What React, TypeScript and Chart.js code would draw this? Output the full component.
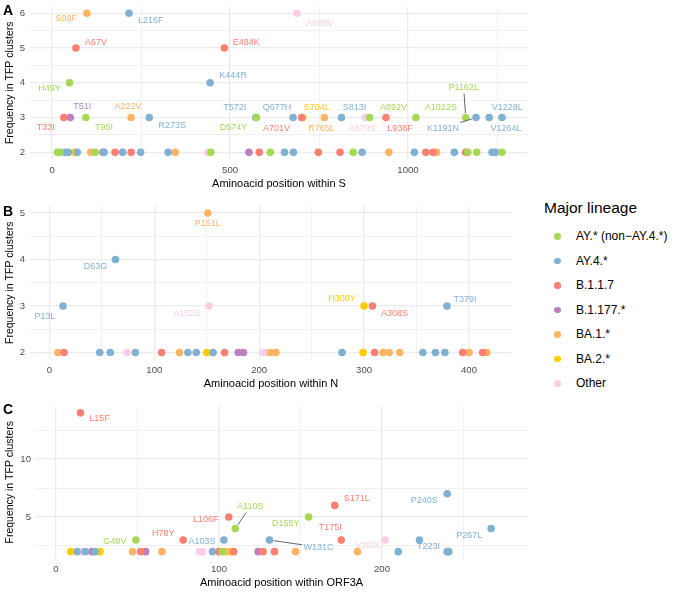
import React, { useEffect, useRef } from "react";
import { Chart, registerables } from "chart.js";

Chart.register(...registerables);

const FONT = '"Liberation Sans", Arial, Helvetica, sans-serif';

const LINEAGE_KEYS = ["AY", "AY4", "B117", "B1177", "BA1", "BA2", "Other"];
const LINEAGE_NAMES = ["AY.* (non\u2212AY.4.*)", "AY.4.*", "B.1.1.7", "B.1.177.*", "BA.1.*", "BA.2.*", "Other"];
const LINEAGE_COLORS = ["#A6D854", "#80B1D3", "#FB8072", "#BC80BD", "#FDB462", "#FFCC00", "#FCCDE5"];

// ---------- Panel A: S ----------
// [mutation, lineage, position, frequency]
const S_LABELED: [string, string, number, number][] = [
  ["S98F", "BA1", 98, 6], ["L216F", "AY4", 216, 6], ["A688V", "Other", 688, 6],
  ["A67V", "B117", 67, 5], ["E484K", "B117", 484, 5],
  ["H49Y", "AY", 49, 4], ["K444R", "AY4", 444, 4],
  ["T33I", "B117", 33, 3], ["T51I", "B1177", 51, 3], ["T95I", "AY", 95, 3], ["A222V", "BA1", 222, 3],
  ["R273S", "AY4", 273, 3], ["T572I", "AY4", 572, 3], ["D574Y", "AY", 574, 3], ["Q677H", "AY4", 677, 3],
  ["A701V", "B117", 701, 3], ["S704L", "BA2", 704, 3], ["R765L", "BA1", 765, 3], ["S813I", "AY4", 813, 3],
  ["A879S", "Other", 879, 3], ["A892V", "AY", 892, 3], ["L938F", "B117", 938, 3], ["A1022S", "AY", 1022, 3],
  ["P1162L", "AY", 1162, 3], ["K1191N", "AY4", 1191, 3], ["V1228L", "AY4", 1228, 3], ["V1264L", "AY4", 1264, 3],
];
// [lineage, position, frequency]
const S_UNLABELED: [string, number, number][] = [
  ["AY", 15, 2], ["AY", 22, 2], ["AY4", 36, 2], ["AY4", 46, 2], ["BA2", 64, 2], ["AY4", 71, 2],
  ["BA1", 109, 2], ["AY", 121, 2], ["B1177", 143, 2], ["AY4", 146, 2], ["B117", 177, 2], ["AY4", 198, 2],
  ["B117", 222, 2], ["AY4", 249, 2], ["AY4", 326, 2], ["BA1", 346, 2], ["Other", 438, 2], ["AY", 446, 2],
  ["B1177", 553, 2], ["B117", 582, 2], ["AY", 613, 2], ["AY4", 653, 2], ["AY4", 678, 2], ["B117", 748, 2],
  ["B117", 809, 2], ["AY", 846, 2], ["AY4", 871, 2], ["BA1", 946, 2], ["AY4", 1018, 2], ["B117", 1050, 2],
  ["B117", 1070, 2], ["BA1", 1080, 2], ["AY4", 1130, 2], ["BA1", 1164, 2], ["B117", 1162, 2], ["AY", 1168, 2],
  ["AY", 1193, 2], ["AY4", 1236, 2], ["AY4", 1246, 2], ["AY", 1264, 2],
];
const S_X_GRID = [0, 250, 500, 750, 1000, 1250];
const S_X_LABELS = [0, 500, 1000];
const S_Y_GRID = [2, 2.5, 3, 3.5, 4, 4.5, 5, 5.5, 6];
const S_Y_LABELS = [2, 3, 4, 5, 6];

// ---------- Panel B: N ----------
const N_LABELED: [string, string, number, number][] = [
  ["P151L", "BA1", 151, 5], ["D63G", "AY4", 63, 4],
  ["P13L", "AY4", 13, 3], ["A152S", "Other", 152, 3], ["H300Y", "BA2", 300, 3],
  ["A308S", "B117", 308, 3], ["T379I", "AY4", 379, 3],
];
const N_UNLABELED: [string, number, number][] = [
  ["BA1", 8, 2], ["B117", 14, 2], ["AY4", 48, 2], ["AY4", 58, 2], ["Other", 74, 2], ["AY4", 82, 2],
  ["B117", 107, 2], ["BA1", 124, 2], ["AY4", 132, 2], ["AY4", 140, 2], ["BA2", 150, 2], ["AY4", 156, 2],
  ["B117", 167, 2], ["B1177", 180, 2], ["B1177", 185, 2], ["Other", 204, 2], ["Other", 208, 2], ["BA1", 211, 2],
  ["BA1", 216, 2], ["AY4", 279, 2], ["BA2", 299, 2], ["B117", 310, 2], ["BA1", 318, 2], ["BA1", 324, 2],
  ["BA1", 334, 2], ["AY4", 356, 2], ["AY4", 368, 2], ["AY4", 377, 2], ["B117", 394, 2], ["BA1", 400, 2],
  ["B117", 413, 2], ["BA1", 417, 2],
];
const N_X_GRID = [0, 50, 100, 150, 200, 250, 300, 350, 400];
const N_X_LABELS = [0, 100, 200, 300, 400];
const N_Y_GRID = [2, 2.5, 3, 3.5, 4, 4.5, 5];
const N_Y_LABELS = [2, 3, 4, 5];

// ---------- Panel C: ORF3A ----------
const ORF3A_LABELED: [string, string, number, number][] = [
  ["L15F", "B117", 15, 14], ["G49V", "AY", 49, 3], ["H78Y", "B117", 78, 3], ["A103S", "AY4", 103, 3],
  ["L106F", "B117", 106, 5], ["A110S", "AY", 110, 4], ["W131C", "AY4", 131, 3], ["D155Y", "AY", 155, 5],
  ["S171L", "B117", 171, 6], ["T175I", "B117", 175, 3], ["V202L", "Other", 202, 3], ["T223I", "AY4", 223, 3],
  ["P240S", "AY4", 240, 7], ["P267L", "AY4", 267, 4],
];
const ORF3A_UNLABELED: [string, number, number][] = [
  ["BA2", 9, 2], ["AY4", 13, 2], ["Other", 16, 2], ["AY4", 18, 2], ["B1177", 22, 2], ["AY4", 24, 2],
  ["BA2", 27, 2], ["BA1", 47, 2], ["B117", 52, 2], ["B1177", 55, 2], ["BA1", 65, 2], ["Other", 88, 2],
  ["Other", 90, 2], ["AY4", 96, 2], ["B117", 100, 2], ["AY", 102, 2], ["BA1", 104, 2], ["BA2", 107, 2],
  ["B117", 109, 2], ["B1177", 124, 2], ["B117", 127, 2], ["B117", 134, 2], ["BA1", 147, 2], ["BA1", 185, 2],
  ["AY4", 210, 2], ["AY4", 240, 2], ["AY4", 241, 2],
];
const ORF3A_X_GRID = [0, 50, 100, 150, 200, 250];
const ORF3A_X_LABELS = [0, 100, 200];
const ORF3A_Y_GRID = [2.5, 5, 7.5, 10, 12.5];
const ORF3A_Y_LABELS = [5, 10];

// ---------- label placement (pixel offsets from the point, optional leader segment) ----------
const S_LABEL_OFFSETS: Record<string, [number, number, boolean?]> = {
  S98F: [-20.6, 5.7], L216F: [21.7, 7.4], A688V: [23, 10], A67V: [20, -5.6], E484K: [22, -5.6],
  H49Y: [-20, 6], K444R: [23, -7.3], T33I: [-18, 10], T51I: [12, -11], T95I: [18, 10], A222V: [-3, -11],
  R273S: [23, 7.5], T572I: [-21, -10], D574Y: [-23, 10], Q677H: [-16, -10], A701V: [-25, 10.6],
  S704L: [14, -10], R765L: [-3, 10.6], S813I: [13, -10], A879S: [-3, 10.6], A892V: [24, -10],
  L938F: [14, 10.6], A1022S: [25, -10], P1162L: [-2, -30, true], K1191N: [-33, 10.6, true],
  V1228L: [18, -10], V1264L: [4, 10.6],
};
const N_LABEL_OFFSETS: Record<string, [number, number, boolean?]> = {
  P151L: [0, 11], D63G: [-20, 7], P13L: [-18, 11], A152S: [-22, 8], H300Y: [-22, -7], A308S: [22, 8], T379I: [18, -6],
};
const ORF3A_LABEL_OFFSETS: Record<string, [number, number, boolean?]> = {
  L15F: [19, 6], G49V: [-21, 1], H78Y: [-20, -7], A103S: [-22, 1], L106F: [-23, 3], A110S: [15, -22, true],
  W131C: [49, 7, true], D155Y: [-23, 7], S171L: [22, -7], T175I: [-11, -13], V202L: [-17, 5], T223I: [9, 6],
  P240S: [-23, 7], P267L: [-22, 7],
};

const LABEL_FONT = `9px ${FONT}`;
const POINT_RADIUS = 3.8;

const labelPlugin = {
  id: "repelLabels",
  afterDatasetsDraw(chart: any, _args: any, opts: any) {
    const ctx = chart.ctx as CanvasRenderingContext2D;
    const offsets = opts.offsets || {};
    ctx.save();
    ctx.font = LABEL_FONT;
    ctx.textAlign = "center";
    ctx.textBaseline = "middle";
    chart.data.datasets.forEach((ds: any, di: number) => {
      const meta = chart.getDatasetMeta(di);
      meta.data.forEach((el: any, i: number) => {
        const d = ds.data[i];
        if (!d || !d.label) return;
        const off = offsets[d.label];
        if (!off) return;
        const lx = el.x + off[0];
        const ly = el.y + off[1];
        if (off[2]) {
          const hw = ctx.measureText(d.label).width / 2 + 1.5;
          const hh = 6;
          const vx = el.x - lx;
          const vy = el.y - ly;
          const t = Math.min(vx !== 0 ? hw / Math.abs(vx) : Infinity, vy !== 0 ? hh / Math.abs(vy) : Infinity);
          const sx = lx + vx * t;
          const sy = ly + vy * t;
          const len = Math.hypot(vx, vy);
          const ex = el.x - (vx / len) * (POINT_RADIUS + 0.5);
          const ey = el.y - (vy / len) * (POINT_RADIUS + 0.5);
          ctx.strokeStyle = "#555555";
          ctx.lineWidth = 0.9;
          ctx.beginPath();
          ctx.moveTo(sx, sy);
          ctx.lineTo(ex, ey);
          ctx.stroke();
        }
        ctx.fillStyle = ds.backgroundColor;
        ctx.fillText(d.label, lx, ly);
      });
    });
    ctx.restore();
  },
};

type PanelCfg = {
  left: number; top: number; width: number; height: number;
  padTop: number; padRight: number;
  yAxisWidth: number; xAxisHeight: number;
  xMin: number; xMax: number; yMin: number; yMax: number;
  xGrid: number[]; xLabels: number[]; yGrid: number[]; yLabels: number[];
  xTitle: string; xTitlePadBottom: number; tickPad: number; yTickPad: number; yTitlePad: number;
  labeled: [string, string, number, number][];
  unlabeled: [string, number, number][];
  offsets: Record<string, [number, number, boolean?]>;
};

function buildDatasets(cfg: PanelCfg) {
  return LINEAGE_KEYS.map((key, li) => {
    const pts: any[] = [];
    cfg.unlabeled.forEach(([lin, pos, freq]) => { if (lin === key) pts.push({ x: pos, y: freq }); });
    cfg.labeled.forEach(([mut, lin, pos, freq]) => { if (lin === key) pts.push({ x: pos, y: freq, label: mut }); });
    return {
      label: LINEAGE_NAMES[li],
      data: pts,
      backgroundColor: LINEAGE_COLORS[li],
      borderWidth: 0,
      pointRadius: POINT_RADIUS,
      pointHoverRadius: POINT_RADIUS,
    };
  });
}

function gridOpts(labels: number[]) {
  return {
    color: "#EBEBEB",
    lineWidth: (c: any) => (c.tick && labels.includes(c.tick.value) ? 1.3 : 0.7),
    drawTicks: false,
  };
}

function Panel({ cfg }: { cfg: PanelCfg }) {
  const ref = useRef<HTMLCanvasElement>(null);
  useEffect(() => {
    const chart = new Chart(ref.current as HTMLCanvasElement, {
      type: "scatter",
      data: { datasets: buildDatasets(cfg) as any },
      plugins: [labelPlugin as any],
      options: {
        animation: false,
        responsive: false,
        maintainAspectRatio: false,
        events: [],
        layout: { padding: { left: 0, top: cfg.padTop, right: cfg.padRight, bottom: 0 }, autoPadding: false } as any,
        plugins: {
          legend: { display: false },
          tooltip: { enabled: false },
          repelLabels: { offsets: cfg.offsets },
        } as any,
        scales: {
          x: {
            type: "linear",
            min: cfg.xMin,
            max: cfg.xMax,
            afterBuildTicks: (s: any) => { s.ticks = cfg.xGrid.map((v) => ({ value: v })); },
            afterFit: (s: any) => {
              s.height = cfg.xAxisHeight;
              s.paddingLeft = 0; s.paddingRight = 0; s.paddingTop = 0; s.paddingBottom = 0;
            },
            grid: gridOpts(cfg.xLabels) as any,
            border: { display: false },
            ticks: {
              autoSkip: false,
              maxRotation: 0,
              padding: cfg.tickPad,
              color: "#4D4D4D",
              font: { family: FONT, size: 9.6 },
              callback: (v: any) => (cfg.xLabels.includes(Number(v)) ? String(v) : ""),
            },
            title: {
              display: true,
              text: cfg.xTitle,
              color: "#000000",
              font: { family: FONT, size: 11 },
              padding: { top: 0, bottom: cfg.xTitlePadBottom },
            },
          },
          y: {
            type: "linear",
            min: cfg.yMin,
            max: cfg.yMax,
            afterBuildTicks: (s: any) => { s.ticks = cfg.yGrid.map((v) => ({ value: v })); },
            afterFit: (s: any) => {
              s.width = cfg.yAxisWidth;
              s.paddingLeft = 0; s.paddingRight = 0; s.paddingTop = 0; s.paddingBottom = 0;
            },
            grid: gridOpts(cfg.yLabels) as any,
            border: { display: false },
            ticks: {
              autoSkip: false,
              padding: cfg.yTickPad,
              color: "#4D4D4D",
              font: { family: FONT, size: 9.6 },
              callback: (v: any) => (cfg.yLabels.includes(Number(v)) ? String(v) : ""),
            },
            title: {
              display: true,
              text: "Frequency in TFP clusters",
              color: "#000000",
              font: { family: FONT, size: 10.5 },
              padding: { top: cfg.yTitlePad, bottom: 0 },
            },
          },
        },
      } as any,
    });
    return () => chart.destroy();
  }, []);
  return (
    <canvas
      ref={ref}
      width={cfg.width}
      height={cfg.height}
      style={{ position: "absolute", left: cfg.left, top: cfg.top, width: cfg.width, height: cfg.height }}
    />
  );
}

const PANEL_A: PanelCfg = {
  left: 0, top: 0, width: 540, height: 196, padTop: 6.3, padRight: 12,
  yAxisWidth: 30, xAxisHeight: 36.7,
  xMin: -62, xMax: 1337, yMin: 1.8, yMax: 6.2,
  xGrid: S_X_GRID, xLabels: S_X_LABELS, yGrid: S_Y_GRID, yLabels: S_Y_LABELS,
  xTitle: "Aminoacid position within S", xTitlePadBottom: 5.4, tickPad: 5, yTickPad: 5, yTitlePad: 3.7,
  labeled: S_LABELED, unlabeled: S_UNLABELED, offsets: S_LABEL_OFFSETS,
};
const PANEL_B: PanelCfg = {
  left: 0, top: 196, width: 540, height: 200, padTop: 10, padRight: 28,
  yAxisWidth: 30, xAxisHeight: 36.5,
  xMin: -18.5, xMax: 441, yMin: 1.85, yMax: 5.15,
  xGrid: N_X_GRID, xLabels: N_X_LABELS, yGrid: N_Y_GRID, yLabels: N_Y_LABELS,
  xTitle: "Aminoacid position within N", xTitlePadBottom: 5.4, tickPad: 5, yTickPad: 5, yTitlePad: 3.7,
  labeled: N_LABELED, unlabeled: N_UNLABELED, offsets: N_LABEL_OFFSETS,
};
const PANEL_C: PanelCfg = {
  left: 0, top: 396, width: 540, height: 196, padTop: 9.9, padRight: 12,
  yAxisWidth: 35, xAxisHeight: 33.4,
  xMin: -12.9, xMax: 289.6, yMin: 1.4, yMax: 14.6,
  xGrid: ORF3A_X_GRID, xLabels: ORF3A_X_LABELS, yGrid: ORF3A_Y_GRID, yLabels: ORF3A_Y_LABELS,
  xTitle: "Aminoacid position within ORF3A", xTitlePadBottom: 2.1, tickPad: 5, yTickPad: 4, yTitlePad: 3.7,
  labeled: ORF3A_LABELED, unlabeled: ORF3A_UNLABELED, offsets: ORF3A_LABEL_OFFSETS,
};

const letterStyle = (top: number): React.CSSProperties => ({
  position: "absolute", left: 3, top, fontFamily: FONT, fontWeight: "bold", fontSize: 14, lineHeight: "14px", color: "#000",
});

export default function App() {
  return (
    <div style={{ position: "absolute", left: 0, top: 0, width: 678, height: 592, background: "#fff", overflow: "hidden" }}>
      <Panel cfg={PANEL_A} />
      <Panel cfg={PANEL_B} />
      <Panel cfg={PANEL_C} />
      <div style={letterStyle(3)}>A</div>
      <div style={letterStyle(204)}>B</div>
      <div style={letterStyle(402)}>C</div>
      <div style={{ position: "absolute", left: 544, top: 199, fontFamily: FONT, fontSize: 15.5, lineHeight: "18px", color: "#000", whiteSpace: "nowrap" }}>
        Major lineage
      </div>
      {LINEAGE_NAMES.map((name, i) => (
        <div key={name} style={{ position: "absolute", left: 550, top: 236 + i * 24.5 - 9, height: 18, whiteSpace: "nowrap" }}>
          <span style={{ position: "absolute", left: 4, top: 6, width: 6.5, height: 6.5, borderRadius: "50%", background: LINEAGE_COLORS[i] }} />
          <span style={{ position: "absolute", left: 26, top: 0, fontFamily: FONT, fontSize: 12, lineHeight: "18px", color: "#000" }}>{name}</span>
        </div>
      ))}
    </div>
  );
}
